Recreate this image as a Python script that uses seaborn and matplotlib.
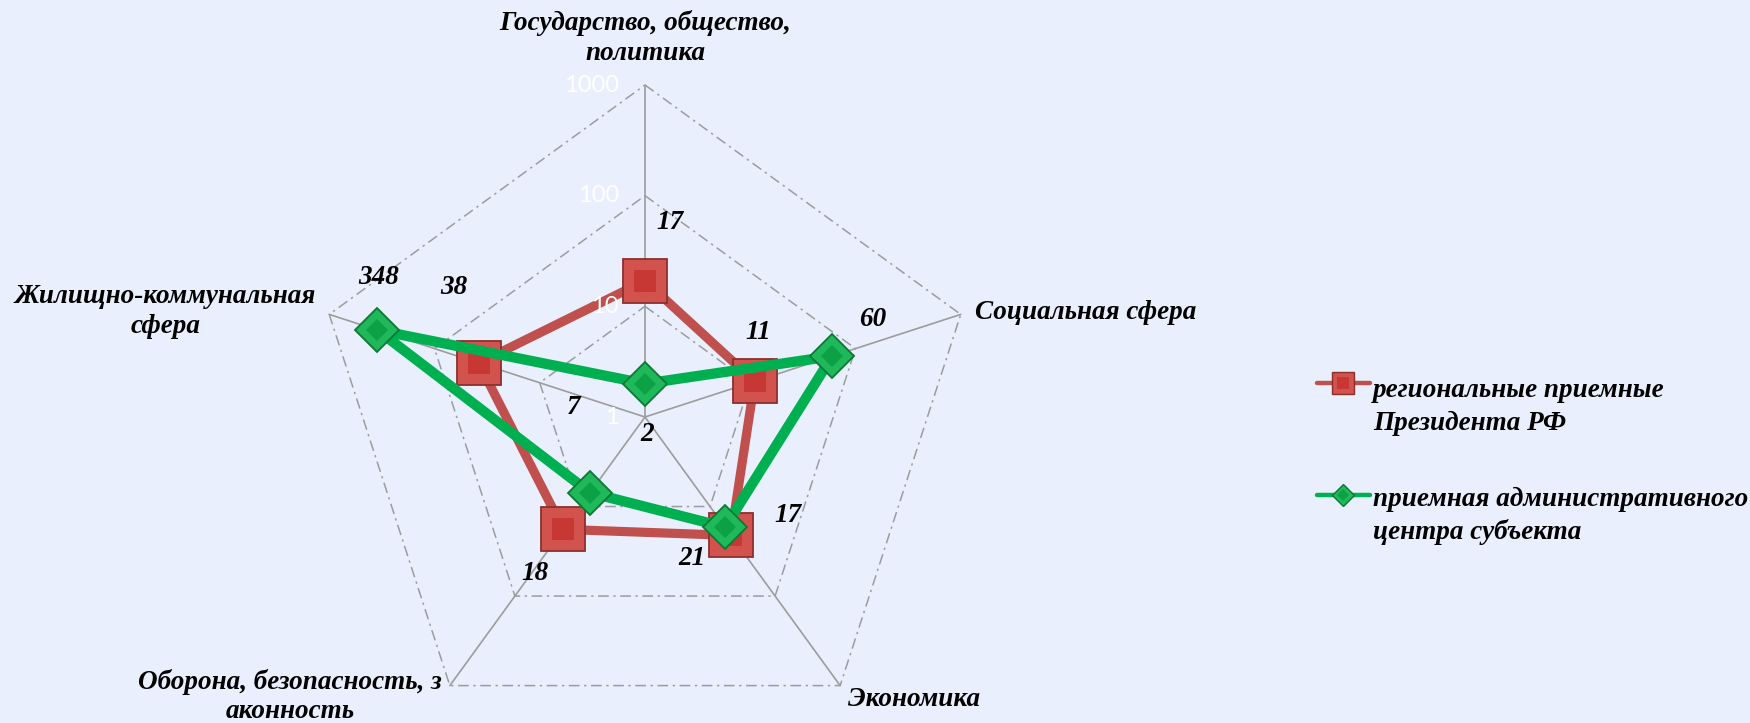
import numpy as np
import matplotlib
matplotlib.use("Agg")
import matplotlib.pyplot as plt
from matplotlib.lines import Line2D
import seaborn as sns

# ---- data -------------------------------------------------------------
categories = [
    "Государство, общество,\nполитика",
    "Социальная сфера",
    "Экономика",
    "Оборона, безопасность, з\nаконность",
    "Жилищно-коммунальная\nсфера",
]
regional = [17, 11, 21, 18, 38]          # региональные приемные Президента РФ
admin_center = [2, 60, 17, 7, 348]       # приемная административного центра субъекта
series_names = [
    "региональные приемные\nПрезидента РФ",
    "приемная административного\nцентра субъекта",
]
r_ticks = [1, 10, 100, 1000]
r_tick_labels = ["1", "10", "100", "1000"]

# ---- style ------------------------------------------------------------
BG = "#E9EFFC"
RED, RED_EDGE, RED_IN = "#D2524E", "#8A302D", "#C73834"
GREEN, GREEN_EDGE, GREEN_IN = "#1FB85A", "#0B7834", "#0DA146"
LINE_RED, LINE_GREEN = "#C0504D", "#00B050"
GRID = "#9C9C9C"

sns.set_style("white", {"axes.facecolor": BG, "figure.facecolor": BG})
plt.rcParams["font.family"] = ["Liberation Serif", "DejaVu Serif"]
label_font = dict(fontsize=19.5, fontweight="bold", fontstyle="italic", color="black")

W, H = 1750, 723
fig = plt.figure(figsize=(W / 100, H / 100), dpi=100)
fig.patch.set_facecolor(BG)

cx, cy, R = 645, 417, 332
ax = fig.add_axes([(cx - R) / W, 1 - (cy + R) / H, 2 * R / W, 2 * R / H],
                  projection="polar")
ax.set_theta_offset(np.pi / 2)
ax.set_theta_direction(-1)
ax.set_rscale("log")
ax.set_rlim(1, 1000)
ax.set_facecolor("none")
ax.grid(False)
ax.set_xticks([])
ax.set_yticks([])
ax.spines["polar"].set_visible(False)

n = len(categories)
theta = np.arange(n) * 2 * np.pi / n
theta_closed = np.append(theta, 2 * np.pi)

# pentagonal grid and spokes
for lvl in r_ticks[1:]:
    ax.plot(theta_closed, [lvl] * (n + 1), color=GRID, lw=1.1,
            ls=(0, (7, 3, 1.5, 3)), zorder=1, clip_on=False)
for t in theta:
    ax.plot([t, t], [r_ticks[0], r_ticks[-1]], color=GRID, lw=1.2, zorder=1,
            clip_on=False)

# radial tick labels along the top spoke (drawn above the series)
for lvl, txt in zip(r_ticks, r_tick_labels):
    ax.annotate(txt, (0, lvl), xytext=(-26, 0), textcoords="offset pixels",
                ha="right", va="center", color="white", fontsize=17,
                family="Lato", zorder=20, annotation_clip=False)

# category labels around the outer pentagon
cat_offsets = [(0, 47), (14, 2), (8, -14), (-160, -11), (-164, 3)]
cat_align = ["center", "left", "left", "center", "center"]
for t, name, off, ha in zip(theta, categories, cat_offsets, cat_align):
    ax.annotate(name, (t, r_ticks[-1]), xytext=off, textcoords="offset pixels",
                ha=ha, va="center", multialignment="center", linespacing=1.25,
                annotation_clip=False, **label_font)


def draw_series(values, line_color, lw, marker, mfc, mec, inner, size, inner_size, z):
    vals_closed = values + values[:1]
    sns.lineplot(x=theta_closed, y=vals_closed, ax=ax, sort=False, estimator=None,
                 color=line_color, linewidth=lw, zorder=z)
    ax.plot(theta, values, ls="none", marker=marker, markersize=size,
            markerfacecolor=mfc, markeredgecolor=mec, markeredgewidth=1.3,
            zorder=z + 1, clip_on=False)
    ax.plot(theta, values, ls="none", marker=marker, markersize=inner_size,
            markerfacecolor=inner, markeredgewidth=0, zorder=z + 1.5, clip_on=False)


draw_series(regional, LINE_RED, 6.6, "s", RED, RED_EDGE, RED_IN, 31, 16, 3)
draw_series(admin_center, LINE_GREEN, 7.4, "D", GREEN, GREEN_EDGE, GREEN_IN, 22, 11, 5)
ax.set_xlabel("")
ax.set_ylabel("")
ax.set_rlim(1, 1000)

# value labels
red_offsets = [(25, 58), (4, 49), (-39, -23), (-28, -44), (-25, 75)]
green_offsets = [(2, -51), (41, 37), (63, 12), (-16, 85), (1, 53)]
for values, offsets in ((regional, red_offsets), (admin_center, green_offsets)):
    for t, v, off in zip(theta, values, offsets):
        ax.annotate(str(v), (t, v), xytext=off, textcoords="offset pixels",
                    ha="center", va="center", zorder=10, annotation_clip=False,
                    **label_font)


# legend on the right
def px(x, y):
    return x / W, 1 - y / H


legend_items = [
    (series_names[0], LINE_RED, "s", RED, RED_EDGE, RED_IN, 16, 8, 383, 407),
    (series_names[1], LINE_GREEN, "D", GREEN, GREEN_EDGE, GREEN_IN, 11.5, 6, 495, 516),
]
for name, lc, mk, mfc, mec, inner, sz, isz, ym, yt in legend_items:
    (x0, y0), (x1, _) = px(1317, ym), px(1370, ym)
    fig.add_artist(Line2D([x0, x1], [y0, y0], color=lc, lw=3.2,
                          transform=fig.transFigure))
    xm, _ = px(1343, ym)
    fig.add_artist(Line2D([xm], [y0], ls="none", marker=mk, markersize=sz,
                          markerfacecolor=mfc, markeredgecolor=mec,
                          markeredgewidth=1, transform=fig.transFigure))
    fig.add_artist(Line2D([xm], [y0], ls="none", marker=mk, markersize=isz,
                          markerfacecolor=inner, markeredgewidth=0,
                          transform=fig.transFigure))
    xt, ytf = px(1373, yt)
    fig.text(xt, ytf, name, ha="left", va="center", linespacing=1.37, **label_font)

fig.savefig("out.png", dpi=100, facecolor=BG)
